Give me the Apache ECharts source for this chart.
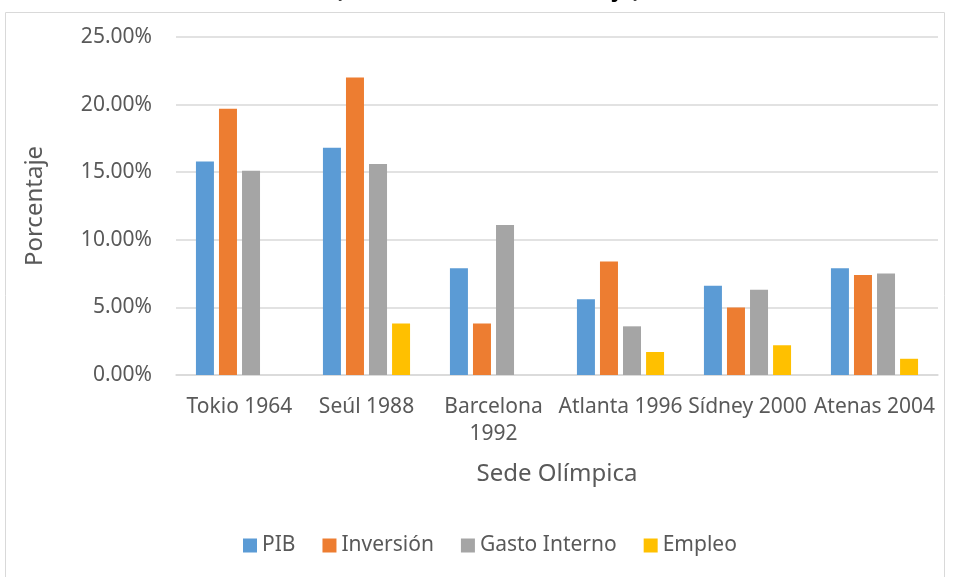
<!DOCTYPE html>
<html>
<head>
<meta charset="utf-8">
<script src="https://cdn.jsdelivr.net/npm/echarts@6/dist/echarts.min.js"></script>
<style>
  html, body { margin: 0; padding: 0; background: #fff; }
  #chart { width: 956px; height: 577px; }
</style>
</head>
<body>
<div id="chart"></div>
<script>
// sedes olimpicas y porcentajes
var sedes = ['Tokio 1964', 'Seúl 1988', 'Barcelona\n1992', 'Atlanta 1996', 'Sídney 2000', 'Atenas 2004'];
var pib = [15.8, 16.8, 7.9, 5.6, 6.6, 7.9];
var inversion = [19.7, 22.0, 3.8, 8.4, 5.0, 7.4];
var gastoInterno = [15.1, 15.6, 11.1, 3.6, 6.3, 7.5];
var empleo = [0, 3.8, 0, 1.7, 2.2, 1.2];
var yTicks = [0, 5, 10, 15, 20, 25];

var colores = ['#5B9BD5', '#ED7D31', '#A5A5A5', '#FFC000'];
var fuente = 'Noto Sans';

function serie(nombre, datos) {
    return {
        name: nombre,
        type: 'bar',
        barWidth: 18,
        barGap: '28%',
        data: datos
    };
}

var chart = echarts.init(document.getElementById('chart'));
var option = {
    animation: false,
    color: colores,
    textStyle: { fontFamily: fuente },
    title: {
        text: '(Crecimiento en Porcentaje)',
        left: 330,
        top: -25,
        textStyle: { fontSize: 22, fontWeight: 'bold', color: '#000', fontFamily: fuente }
    },
    graphic: [{
        type: 'rect',
        shape: { x: 5.5, y: 12.5, width: 939, height: 600 },
        style: { fill: 'none', stroke: '#D9D9D9', lineWidth: 1 },
        silent: true
    }],
    grid: { left: 176, right: 18, top: 37, bottom: 202 },
    legend: {
        top: 530,
        left: 238,
        itemWidth: 14,
        itemHeight: 14,
        itemGap: 27,
        icon: 'rect',
        textStyle: { fontSize: 21, color: '#595959' },
        data: ['PIB', 'Inversión', 'Gasto Interno', 'Empleo']
    },
    xAxis: {
        type: 'category',
        data: sedes,
        name: 'Sede Olímpica',
        nameLocation: 'middle',
        nameGap: 87,
        nameTextStyle: { fontSize: 24, color: '#595959' },
        axisLine: { lineStyle: { color: '#D9D9D9', width: 1.5 } },
        axisTick: { show: false },
        axisLabel: { interval: 0, fontSize: 21, color: '#595959', margin: 19, lineHeight: 27 }
    },
    yAxis: {
        type: 'value',
        min: yTicks[0],
        max: yTicks[yTicks.length - 1],
        interval: 5,
        name: 'Porcentaje',
        nameLocation: 'middle',
        nameGap: 129,
        nameTextStyle: { fontSize: 24, color: '#595959' },
        axisLine: { show: false },
        axisTick: { show: false },
        axisLabel: {
            fontSize: 21,
            color: '#595959',
            margin: 24,
            formatter: function (v) { return v.toFixed(2) + '%'; }
        },
        splitLine: { lineStyle: { color: '#D9D9D9', width: 1.5 } }
    },
    series: [
        serie('PIB', pib),
        serie('Inversión', inversion),
        serie('Gasto Interno', gastoInterno),
        serie('Empleo', empleo)
    ]
};
chart.setOption(option);
</script>
</body>
</html>
